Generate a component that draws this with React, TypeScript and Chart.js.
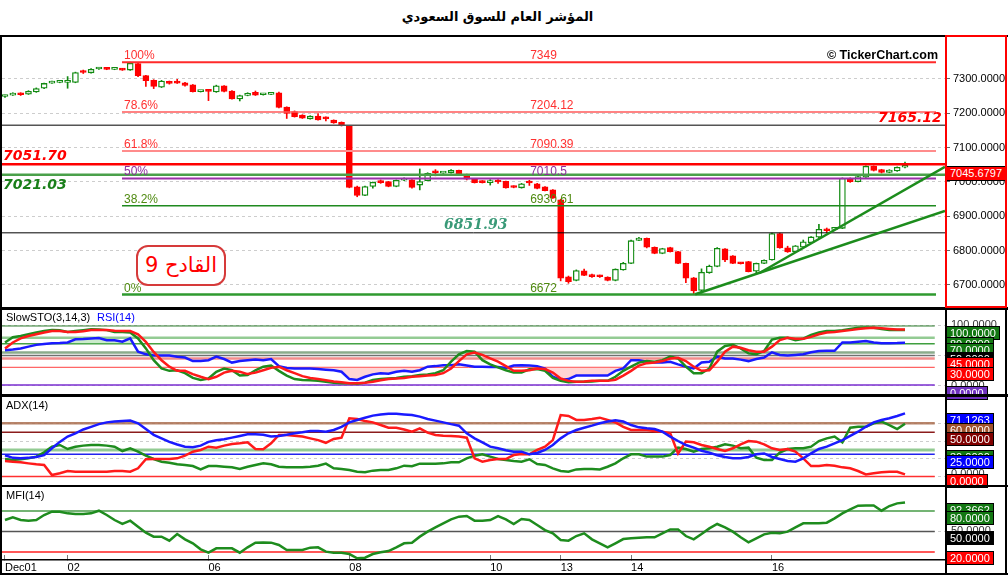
import { useEffect, useRef } from "react";
import { Chart, registerables } from "chart.js";

Chart.register(...registerables);

const FONT = '"Liberation Sans", Arial, sans-serif';

// time axis: first bar of each labelled trading day
const dayLabels = ["Dec01", "02", "06", "08", "10", "13", "14", "16"];
const dayStarts = [0, 8, 26, 44, 62, 71, 80, 98];

const priceTicks = [6700, 6800, 6900, 7000, 7100, 7200, 7300];

const opens = [
  7249, 7253, 7258, 7256, 7262, 7273, 7288, 7290, 7290, 7290,
  7321, 7318, 7329, 7332, 7328, 7330, 7326, 7345, 7310, 7296,
  7276, 7293, 7292, 7289, 7283, 7263, 7267, 7262, 7280, 7265,
  7242, 7252, 7261, 7254, 7255, 7260, 7218, 7205, 7195, 7184,
  7192, 7186, 7180, 7174, 7163, 6986, 6961, 6987, 7001, 7001,
  6987, 7005, 7006, 6991, 7004, 7030, 7026, 7027, 7034, 7022,
  7008, 7003, 6998, 7003, 7002, 6988, 6983, 7000, 6995, 6986,
  6977, 6948, 6724, 6713, 6741, 6730, 6728, 6723, 6713, 6744,
  6763, 6830, 6836, 6810, 6792, 6809, 6797, 6763, 6721, 6684,
  6736, 6754, 6805, 6785, 6764, 6768, 6740, 6763, 6773, 6850,
  6808, 6797, 6810, 6823, 6839, 6862, 6862, 6865, 7008, 7001,
  7014, 7046, 7036, 7028, 7032, 7043,
];
const highs = [
  7253, 7260, 7260, 7266, 7274, 7288, 7294, 7294, 7307, 7320,
  7326, 7330, 7333, 7333, 7331, 7331, 7349, 7347, 7311, 7298,
  7296, 7294, 7299, 7290, 7284, 7267, 7268, 7282, 7281, 7266,
  7253, 7260, 7265, 7258, 7259, 7262, 7219, 7207, 7196, 7193,
  7199, 7190, 7181, 7175, 7165, 6988, 6988, 7000, 7006, 7002,
  7006, 7012, 7007, 7038, 7027, 7036, 7030, 7036, 7035, 7023,
  7009, 7004, 7007, 7007, 7003, 6989, 6996, 7005, 6996, 6987,
  6978, 6950, 6726, 6744, 6746, 6732, 6729, 6724, 6747, 6766,
  6831, 6839, 6837, 6811, 6807, 6810, 6798, 6764, 6722, 6747,
  6758, 6809, 6806, 6786, 6766, 6769, 6764, 6773, 6851, 6851,
  6813, 6815, 6831, 6841, 6877, 6866, 6867, 7012, 7012, 7017,
  7047, 7047, 7037, 7036, 7044, 7058,
];
const lows = [
  7246, 7252, 7252, 7255, 7261, 7272, 7287, 7289, 7273, 7289,
  7316, 7317, 7328, 7327, 7327, 7325, 7325, 7307, 7278, 7272,
  7275, 7285, 7287, 7279, 7262, 7262, 7237, 7261, 7262, 7241,
  7236, 7251, 7252, 7253, 7254, 7216, 7185, 7189, 7185, 7183,
  7180, 7178, 7171, 7163, 6983, 6957, 6960, 6982, 6996, 6986,
  6986, 7004, 6982, 6977, 7003, 7018, 7025, 7026, 7022, 7006,
  6997, 6997, 6991, 6996, 6982, 6983, 6982, 6990, 6980, 6974,
  6952, 6712, 6705, 6712, 6727, 6722, 6722, 6712, 6712, 6743,
  6762, 6829, 6808, 6791, 6791, 6796, 6762, 6707, 6672, 6676,
  6734, 6753, 6768, 6762, 6761, 6738, 6735, 6762, 6772, 6807,
  6795, 6796, 6809, 6822, 6838, 6853, 6861, 6864, 6999, 7000,
  7013, 7032, 7026, 7027, 7031, 7041,
];
const closes = [
  7251, 7258, 7254, 7264, 7272, 7287, 7291, 7293, 7292, 7319,
  7319, 7328, 7332, 7328, 7329, 7326, 7346, 7310, 7295, 7278,
  7294, 7287, 7288, 7281, 7263, 7265, 7264, 7280, 7264, 7242,
  7252, 7258, 7253, 7256, 7257, 7217, 7200, 7190, 7186, 7192,
  7181, 7184, 7172, 7164, 6984, 6961, 6987, 6999, 6998, 6987,
  7005, 7007, 6984, 7001, 7025, 7027, 7028, 7034, 7024, 7008,
  6998, 6998, 7001, 7000, 6983, 6984, 6995, 6997, 6981, 6975,
  6953, 6720, 6710, 6742, 6728, 6724, 6724, 6713, 6746, 6763,
  6829, 6837, 6810, 6792, 6806, 6797, 6763, 6720, 6683, 6737,
  6755, 6807, 6773, 6763, 6762, 6739, 6763, 6772, 6850, 6808,
  6796, 6814, 6826, 6840, 6862, 6858, 6865, 7011, 7001, 7016,
  7046, 7034, 7028, 7035, 7043, 7045.68,
];

// fibonacci retracement
const fibNames = ["100%", "78.6%", "61.8%", "50%", "38.2%", "0%"];
const fibValues = [7349, 7204.12, 7090.39, 7010.5, 6930.61, 6672];

// drawn support / resistance levels
const keyLevels = [7165.12, 7051.7, 7021.03, 6851.93];

// trend lines [bar index, price]
const trendUpper = [[96.4, 6735], [120.1, 7044]];
const trendLower = [[88.2, 6673], [120.1, 6916]];

const slowK = [
  72, 81, 83, 86, 89, 91.5, 93, 92.6, 90, 91.5,
  93, 94.4, 94, 93, 90, 90, 89, 79, 62, 42,
  28, 24, 25, 20, 12, 8.5, 11, 22.5, 28, 25,
  16, 17, 25, 31, 33, 24, 16, 10, 8.5, 8,
  7, 5.6, 4, 3, 2.8, 2, 4, 8.5, 10, 11,
  12, 14, 15, 17, 18, 20, 25, 39.5, 52, 57.6,
  56.5, 42, 35, 30, 25, 21, 21, 26.5, 27, 24,
  12, 7, 4.5, 5.6, 5.6, 6, 7, 7, 14, 24,
  31, 38, 40.5, 39.5, 42, 48, 45, 31, 20, 20,
  28, 56.5, 66, 68, 62, 53.6, 52, 57.6, 77, 80,
  80, 76, 78.5, 85, 89, 91.5, 91.5, 93, 95, 97,
  97.5, 97, 95, 93, 93, 93,
];
const slowD = [
  62, 72, 79, 83, 86, 89, 91.5, 91.5, 90, 90,
  91, 93, 93, 93, 92, 91.5, 91.5, 86, 73, 56,
  42, 31, 24, 24, 18.5, 14, 10, 14, 21, 24,
  22.5, 18.5, 21, 25, 29, 31, 25, 20, 15, 12,
  10, 8, 6, 4.5, 3, 3, 4, 5.6, 8, 10,
  11, 12, 14, 15, 16, 17, 20, 28, 40.5, 52,
  55, 51, 45, 39.5, 32, 24, 24, 25, 28, 27,
  21, 11, 7, 5.6, 6, 7, 7, 7, 9, 16,
  24, 33, 37, 38, 40.5, 45, 46, 40.5, 31, 24,
  25, 39.5, 56.5, 65, 63, 59, 56.5, 56.5, 65, 76,
  80, 78.5, 78.5, 81.5, 86, 89, 90, 91.5, 93, 95,
  96, 97, 96, 95, 94, 94,
];
const rsi = [
  59, 60, 62, 65, 68, 69.5, 70.6, 71, 72, 77.4,
  78, 79, 79.7, 76, 75.7, 73.4, 79, 56.5, 52, 50,
  50, 50, 48, 46.5, 40.5, 40.5, 42, 48, 44, 38,
  40.5, 42, 43, 42, 44, 32, 29, 28, 28, 28,
  27, 26, 25, 22.5, 10, 8.5, 14, 18, 20, 19,
  22.5, 24, 22.5, 25, 31, 32, 33.5, 33.5, 35, 33,
  31, 31, 30.5, 30.5, 29, 33, 33.5, 33, 32, 28,
  14, 8.5, 10, 16, 16, 16, 16, 16, 24, 28,
  42, 42, 39.5, 38, 38, 39.5, 35, 31, 28, 38,
  39.5, 48, 45, 45, 43, 40.5, 44, 46.5, 55.4, 51,
  50, 51, 52, 55.4, 57.6, 58, 58, 72, 72, 73.4,
  74.5, 72, 70.6, 70.6, 71, 71.7,
];
const adx = [
  24, 21, 20.5, 21, 22, 24, 31.8, 39, 45, 48.7,
  53, 56, 59, 61, 62, 62.6, 63, 60, 53.5, 47,
  43, 39, 36, 33.6, 33, 34.8, 39, 40.8, 42, 43.8,
  45.7, 47.5, 47.5, 47, 45, 45.7, 47, 48.7, 49.8, 51.3,
  51.3, 50.5, 52.4, 56, 61, 63.7, 66.3, 68.6, 70, 70.8,
  70.8, 70, 69.3, 67.5, 64.8, 63, 61, 59, 57.3, 48.7,
  43, 38.5, 33.6, 31.8, 29.5, 28, 28, 25, 26.5, 29.9,
  35.5, 43, 48.7, 52.4, 55, 57.3, 60, 62, 63.3, 62,
  58, 55.4, 54.3, 53.5, 50.5, 45, 40, 35.5, 32.5, 29,
  26.9, 24, 22, 20.5, 20.5, 22, 25, 26, 22, 19.7,
  17.5, 16.7, 20.5, 26, 31, 33.6, 37.4, 41, 45.7, 50.5,
  56, 61, 63.7, 65.6, 68.2, 71.1,
];
const minusDI = [
  17.5, 16.7, 16, 14.8, 13.7, 13, 1.7, 3.6, 6.2, 5.4,
  5.4, 5.4, 5.4, 5.4, 6.2, 6.2, 5.4, 9.2, 19.4, 19.7,
  19.7, 19.7, 20.5, 23.5, 28, 29.9, 33.6, 32.5, 34.8, 36.6,
  37.4, 38.5, 31, 30.6, 37.4, 46.8, 46.8, 46, 45, 43,
  41, 38, 42.3, 43.8, 65.6, 64.8, 62.6, 61, 58, 55,
  55, 53, 50.5, 54.3, 49.4, 46.8, 46, 45.7, 45, 43.8,
  20.5, 16.7, 18.6, 19.7, 19.7, 24.2, 25.4, 25, 29.9, 33.6,
  41, 69.3, 68.2, 63.7, 63.7, 64.8, 66.3, 63.7, 61, 56,
  52.4, 52.4, 52.4, 51.3, 50.5, 48.7, 26, 39.3, 38.5, 35.5,
  33.6, 31, 28.7, 31.8, 36.3, 40, 39.3, 36.3, 31.8, 29.9,
  31, 28, 20.5, 11.8, 11.8, 13, 12.2, 10.3, 9.2, 6.2,
  2.4, 3.6, 4.7, 5.4, 5.4, 2.4,
];
const plusDI = [
  19.7, 18.6, 19.4, 20.5, 22.4, 27.2, 33.6, 35.5, 31, 33.6,
  34.8, 35.5, 35.5, 34.8, 33.6, 28.7, 31.8, 28, 23.5, 19.7,
  16.7, 15.6, 13.7, 13, 11.8, 8, 11.8, 11.8, 11, 10.3,
  8.5, 11, 13, 14.8, 13.7, 11, 10.3, 10.3, 10.3, 11,
  12.2, 14.5, 9.2, 8.5, 7.3, 5.4, 4.7, 6.6, 7.3, 7.3,
  9.2, 12.2, 11.5, 14.5, 14.5, 14.5, 14.8, 16, 16, 20.5,
  23.5, 25, 22.4, 19.7, 18.6, 17.5, 16.7, 19.4, 14.1, 13,
  9.2, 6.2, 5.4, 8, 8.5, 8.5, 8, 11, 14.8, 20.5,
  25, 25, 22.4, 22.4, 22.4, 24.2, 32.5, 31, 28, 31,
  31.8, 33.6, 36.3, 34.8, 31.8, 32.5, 21.2, 18.6, 18.6, 26.9,
  31, 31.8, 31.8, 33.6, 40, 43, 45, 38.5, 55, 56,
  56, 60, 61.8, 58, 53.5, 59.5,
];
const mfi = [
  66.7, 70.6, 66.7, 65.7, 66.7, 74, 78.8, 78.8, 76.4, 75.4,
  75.4, 76.4, 80.3, 74, 66.7, 60.9, 65.7, 57, 48.2, 42.4,
  42.4, 36.5, 46.3, 38.5, 32.7, 23.9, 19, 25.4, 25.4, 25.4,
  19, 26.8, 33.6, 34, 33.6, 30.2, 22.9, 22.9, 22.9, 26.3,
  26.8, 20.5, 19, 19, 17, 10.8, 11.7, 17, 19.5, 21.4,
  26.8, 32.7, 33.6, 42.4, 49.7, 56, 61.9, 67.7, 71.6, 72.5,
  65.7, 65.7, 66.7, 72.5, 67.7, 60.9, 68.2, 66.7, 59.4, 52,
  47.2, 37.5, 36.5, 43.3, 47.2, 38.5, 32.7, 26.8, 32.7, 38.9,
  39.9, 40.9, 41.4, 41.4, 47.2, 53, 53, 43.3, 38.5, 46.3,
  54.5, 60.9, 56, 49.7, 41.4, 34, 39.9, 45.7, 48.2, 47.2,
  49.7, 56, 61.9, 61.9, 61.9, 62.8, 69.1, 76.4, 82.2, 87.6,
  88, 88, 80.3, 87.1, 91, 92.4,
];

const stoLevels = [100, 80, 70, 55, 50, 45, 30, 0];
const adxLevels = [60, 50, 30, 25, 0];
const mfiLevels = [80, 50, 20];

// ---- layout helpers ----
const XMIN = -0.383;
const XMAX = 120.11;
const GREEN = "#118a11";
const RED = "#ff0000";

const hline = (x0: number, x1: number, v: number, color: string, width: number) => ({
  type: "line",
  data: [{ x: x0, y: v }, { x: x1, y: v }],
  borderColor: color,
  borderWidth: width,
  pointRadius: 0,
  fill: false,
  order: 2,
});

const seg = (pts: number[][], color: string, width: number) => ({
  type: "line",
  data: pts.map((p) => ({ x: p[0], y: p[1] })),
  borderColor: color,
  borderWidth: width,
  pointRadius: 0,
  fill: false,
  order: 1,
});

const series = (vals: number[], color: string, order: number) => ({
  type: "line",
  data: vals.map((v, i) => ({ x: i, y: v })),
  borderColor: color,
  borderWidth: 2.5,
  pointRadius: 0,
  fill: false,
  order,
});

const xHidden = { type: "linear", display: false, min: XMIN, max: XMAX, offset: false, grid: { offset: false } };

function rightAxis(min: number, max: number, ticks: number[], labels: boolean) {
  return {
    type: "linear",
    position: "right",
    min,
    max,
    beginAtZero: false,
    afterBuildTicks: (s: any) => {
      s.ticks = ticks.map((v) => ({ value: v }));
    },
    afterFit: (s: any) => {
      s.width = 63;
      s.paddingTop = 0;
      s.paddingBottom = 0;
    },
    ticks: {
      display: labels,
      color: "#000",
      padding: 3,
      font: { family: FONT, size: 11 },
      callback: (v: any) => Number(v).toFixed(4),
    },
    grid: { color: "#cdcdcd", drawTicks: labels, tickLength: 5, tickColor: "#666", tickBorderDash: [] },
    border: { display: false, dash: [3, 3] },
  };
}

const textPlugin = {
  id: "levelText",
  afterDatasetsDraw(chart: any, _args: any, opts: any) {
    const { ctx, scales } = chart;
    ctx.save();
    for (const t of opts.items || []) {
      ctx.font = t.font;
      ctx.fillStyle = t.color;
      ctx.textAlign = t.align || "left";
      ctx.textBaseline = "alphabetic";
      ctx.fillText(t.text, scales.x.getPixelForValue(t.x), scales.y.getPixelForValue(t.y) + t.dy);
    }
    ctx.restore();
  },
};

const baseOptions = (scales: any, extraPlugins: any = {}) => ({
  animation: false,
  responsive: false,
  maintainAspectRatio: false,
  events: [],
  layout: { padding: { left: 2, right: 0, top: 0, bottom: 0 } },
  plugins: { legend: { display: false }, tooltip: { enabled: false }, ...extraPlugins },
  scales,
});

function mainConfig(): any {
  const up = closes.map((c, i) => c >= opens[i]);
  const fibLine = ["#ff2a2a", "#ff5a5a", "#ff8c8c", "#9a2fa8", "#1f8a1f", "#2f9a2f"];
  const fibW = [2, 1.5, 2, 2, 1.5, 2.5];
  const fibTxt = ["#ff3030", "#ff3030", "#ff3030", "#8e2d9e", "#4f8a10", "#4f8a10"];
  const keyColor = ["#555555", "#ff0000", "#4aa04a", "#000000"];
  const keyW = [1.5, 2.5, 2.5, 1];
  const small = `12px ${FONT}`;
  const bold = 'italic bold 14px "DejaVu Sans", sans-serif';
  const items = [
    ...fibValues.flatMap((v, k) => [
      { x: 15.2, y: v, dy: -3, text: fibNames[k], color: fibTxt[k], font: small },
      { x: 67.1, y: v, dy: -3, text: String(v), color: fibTxt[k], font: small },
    ]),
    { x: 119.7, y: keyLevels[0], dy: -3, text: keyLevels[0].toFixed(2), color: "#ff0000", font: bold, align: "right" },
    { x: -0.26, y: keyLevels[1], dy: -4, text: keyLevels[1].toFixed(2), color: "#ff0000", font: bold },
    { x: -0.26, y: keyLevels[2], dy: 14, text: keyLevels[2].toFixed(2), color: "#1a7f1a", font: bold },
    { x: 56.1, y: keyLevels[3], dy: -4, text: keyLevels[3].toFixed(2), color: "#3a9a78", font: 'italic bold 14px "DejaVu Serif", serif' },
  ];
  return {
    type: "bar",
    data: {
      datasets: [
        {
          type: "bar",
          data: lows.map((l, i) => ({ x: i, y: [l, highs[i]] })),
          backgroundColor: up.map((u) => (u ? GREEN : RED)),
          barThickness: 1,
          grouped: false,
          order: 6,
        },
        {
          type: "bar",
          data: opens.map((o, i) => ({ x: i, y: [o, closes[i]] })),
          backgroundColor: up.map((u) => (u ? "#ffffff" : RED)),
          borderColor: up.map((u) => (u ? GREEN : RED)),
          borderWidth: 1.3,
          borderSkipped: false,
          barThickness: 6,
          minBarLength: 2,
          grouped: false,
          order: 5,
        },
        ...fibValues.map((v, k) => hline(14.95, 118.96, v, fibLine[k], fibW[k])),
        ...keyLevels.map((v, k) => hline(XMIN, XMAX, v, keyColor[k], keyW[k])),
        seg(trendUpper, "#1c8c1c", 2.5),
        seg(trendLower, "#1c8c1c", 2.5),
      ],
    },
    options: baseOptions(
      { x: xHidden, y: rightAxis(6633.0, 7422.3, priceTicks, true) },
      { levelText: { items } }
    ),
    plugins: [textPlugin],
  };
}

function stoConfig(): any {
  const colors = ["#2a7a2a", "rgba(120,190,120,0.8)", "#3f9f3f", "rgba(110,150,110,0.8)", "#707070", "rgba(240,120,120,0.85)", "#ff3b3b", "#7a2ed0"];
  const widths = [1, 2.5, 1.5, 2.5, 1.5, 2.5, 1, 1.5];
  const fillBand = (level: number, above: string, below: string) => ({
    type: "line",
    data: rsi.map((v, i) => ({ x: i, y: v })),
    borderWidth: 0,
    borderColor: "rgba(0,0,0,0)",
    pointRadius: 0,
    fill: { target: { value: level }, above, below },
    order: 3,
  });
  return {
    type: "line",
    data: {
      datasets: [
        ...stoLevels.map((v, k) => ({ ...hline(XMIN, 118.8, v, colors[k], widths[k]), order: 4 })),
        fillBand(70, "rgba(140,210,140,0.45)", "rgba(0,0,0,0)"),
        fillBand(30, "rgba(0,0,0,0)", "rgba(255,160,160,0.45)"),
        series(rsi, "#1a1aff", 1.5),
        series(slowK, "#1e8c1e", 1.2),
        series(slowD, "#ff1a1a", 1),
      ],
    },
    options: baseOptions({ x: xHidden, y: rightAxis(-15.25, 127.1, [0, 50, 100], false) }),
  };
}

function adxConfig(): any {
  const colors = ["rgba(170,110,80,0.85)", "#8b1c1c", "rgba(120,190,120,0.8)", "#2222ee", "#ff3030"];
  const widths = [2.5, 1.5, 3, 1.5, 1.5];
  return {
    type: "line",
    data: {
      datasets: [
        ...adxLevels.map((v, k) => ({ ...hline(XMIN, 118.8, v, colors[k], widths[k]), order: 4 })),
        series(plusDI, "#1e8c1e", 1.5),
        series(minusDI, "#ff1a1a", 1.2),
        series(adx, "#1a1aff", 1),
      ],
    },
    options: baseOptions({ x: xHidden, y: rightAxis(-9.58, 89.6, [0, 20, 40, 60], false) }),
  };
}

function mfiConfig(): any {
  const colors = ["rgba(60,150,60,0.95)", "#555555", "#ff2020"];
  return {
    type: "line",
    data: {
      datasets: [
        ...mfiLevels.map((v, k) => ({ ...hline(XMIN, 118.8, v, colors[k], 1.5), order: 4 })),
        series(mfi, "#1e8c1e", 1),
      ],
    },
    options: baseOptions({
      x: {
        type: "linear",
        min: XMIN,
        max: XMAX,
        offset: false,
        afterBuildTicks: (s: any) => {
          s.ticks = dayStarts.map((v) => ({ value: v }));
        },
        afterFit: (s: any) => {
          s.height = 15;
          s.paddingLeft = 0;
          s.paddingRight = 0;
        },
        ticks: {
          autoSkip: false,
          maxRotation: 0,
          align: "start",
          padding: 6,
          color: "#000",
          font: { family: FONT, size: 11 },
          callback: (_v: any, i: number) => dayLabels[i],
        },
        grid: { drawOnChartArea: false, tickLength: -5, color: "#777" },
        border: { display: true, color: "#000", width: 1.5 },
      },
      y: rightAxis(8.3, 114.9, [50], false),
    }),
  };
}

type Tag = [number, string, string | null];

const stoTags: Tag[] = [
  [318, "100.0000", null],
  [326, "100.0000", "#127712"],
  [337, "80.0000", "#127712"],
  [343, "70.0000", "#127712"],
  [352, "50.0000", "#000000"],
  [357, "45.0000", "#ff0000"],
  [367, "30.0000", "#ff0000"],
  [379, "0.0000", null],
  [386, "0.0000", "#7030c0"],
];
const adxTags: Tag[] = [
  [413, "71.1263", "#0000ff"],
  [423, "60.0000", "#a0522d"],
  [432, "50.0000", "#800000"],
  [450, "30.0000", "#127712"],
  [455, "25.0000", "#0000ff"],
  [467, "0.0000", null],
  [474, "0.0000", "#ff0000"],
];
const mfiTags: Tag[] = [
  [503, "92.3662", "#127712"],
  [511, "80.0000", "#127712"],
  [524, "50.0000", null],
  [531, "50.0000", "#000000"],
  [551, "20.0000", "#ff0000"],
];

function TagBox({ top, text, bg }: { top: number; text: string; bg: string | null }) {
  return (
    <div
      style={{
        position: "absolute",
        left: bg ? 946 : 951,
        top,
        height: 12,
        lineHeight: "12px",
        padding: bg ? "0 3px" : 0,
        background: bg || "transparent",
        color: bg ? "#fff" : "#333",
        border: bg ? "1px solid #000" : "none",
        fontFamily: FONT,
        fontSize: 11,
        whiteSpace: "nowrap",
      }}
    >
      {text}
    </div>
  );
}

const bar = (left: number, top: number, width: number, height: number, color = "#000") => (
  <div style={{ position: "absolute", left, top, width, height, background: color }} />
);

export default function App() {
  const mainRef = useRef<HTMLCanvasElement>(null);
  const stoRef = useRef<HTMLCanvasElement>(null);
  const adxRef = useRef<HTMLCanvasElement>(null);
  const mfiRef = useRef<HTMLCanvasElement>(null);

  useEffect(() => {
    const charts: Chart[] = [];
    const pairs: [HTMLCanvasElement | null, () => any][] = [
      [mainRef.current, mainConfig],
      [stoRef.current, stoConfig],
      [adxRef.current, adxConfig],
      [mfiRef.current, mfiConfig],
    ];
    for (const [cv, cfg] of pairs) {
      if (cv) charts.push(new Chart(cv, cfg()));
    }
    return () => {
      charts.forEach((c) => c.destroy());
    };
  }, []);

  const canvasStyle = (top: number) => ({ position: "absolute" as const, left: 0, top });

  return (
    <div
      style={{
        position: "absolute",
        left: 0,
        top: 0,
        width: 1008,
        height: 575,
        background: "#fff",
        overflow: "hidden",
        fontFamily: FONT,
      }}
    >
      <div
        dir="rtl"
        style={{
          position: "absolute",
          top: 9,
          left: 0,
          width: 995,
          textAlign: "center",
          fontFamily: '"DejaVu Sans", sans-serif',
          fontWeight: "bold",
          fontSize: 13,
          color: "#000",
        }}
      >
        المؤشر العام للسوق السعودي
      </div>

      <canvas ref={mainRef} width={1008} height={271} style={canvasStyle(37)} />
      <canvas ref={stoRef} width={1008} height={84} style={canvasStyle(310)} />
      <canvas ref={adxRef} width={1008} height={88} style={canvasStyle(397)} />
      <canvas ref={mfiRef} width={1008} height={88} style={canvasStyle(487)} />

      <div
        style={{
          position: "absolute",
          right: 70,
          top: 48,
          fontFamily: FONT,
          fontWeight: "bold",
          fontSize: 12.5,
          color: "#000",
        }}
      >
        © TickerChart.com
      </div>

      <div
        dir="rtl"
        style={{
          position: "absolute",
          left: 136,
          top: 245,
          width: 90,
          height: 41,
          boxSizing: "border-box",
          border: "2.5px solid #d63a3a",
          borderRadius: 12,
          background: "#fff",
          color: "#ff0000",
          fontFamily: '"DejaVu Sans", sans-serif',
          fontSize: 21,
          lineHeight: "36px",
          textAlign: "center",
        }}
      >
        القادح 9
      </div>

      <div style={{ position: "absolute", left: 6, top: 311, fontSize: 11, lineHeight: "12px", color: "#000" }}>
        SlowSTO(3,14,3)
      </div>
      <div style={{ position: "absolute", left: 97, top: 311, fontSize: 11, lineHeight: "12px", color: "#0000ff" }}>
        RSI(14)
      </div>
      <div style={{ position: "absolute", left: 6, top: 399, fontSize: 11, lineHeight: "12px", color: "#000" }}>
        ADX(14)
      </div>
      <div style={{ position: "absolute", left: 6, top: 489, fontSize: 11, lineHeight: "12px", color: "#000" }}>
        MFI(14)
      </div>

      {[...stoTags, ...adxTags, ...mfiTags].map(([top, text, bg], k) => (
        <TagBox key={k} top={top} text={text} bg={bg} />
      ))}
      <div
        style={{
          position: "absolute",
          left: 946,
          top: 166,
          width: 58,
          height: 13,
          lineHeight: "13px",
          background: RED,
          color: "#fff",
          border: "1px solid #000",
          fontSize: 11,
          textAlign: "center",
        }}
      >
        7045.6797
      </div>

      {/* frames */}
      {bar(0, 35, 1008, 2)}
      {bar(0, 307, 1008, 3)}
      {bar(0, 394, 1008, 3)}
      {bar(0, 485, 1008, 2)}
      {bar(0, 573, 1008, 2)}
      {bar(0, 35, 2, 540)}
      {bar(945, 308, 2, 267)}
      {bar(1005, 308, 2, 267)}
      <div
        style={{
          position: "absolute",
          left: 945,
          top: 35,
          width: 62,
          height: 273,
          boxSizing: "border-box",
          border: "2px solid #ff0000",
        }}
      />
    </div>
  );
}
